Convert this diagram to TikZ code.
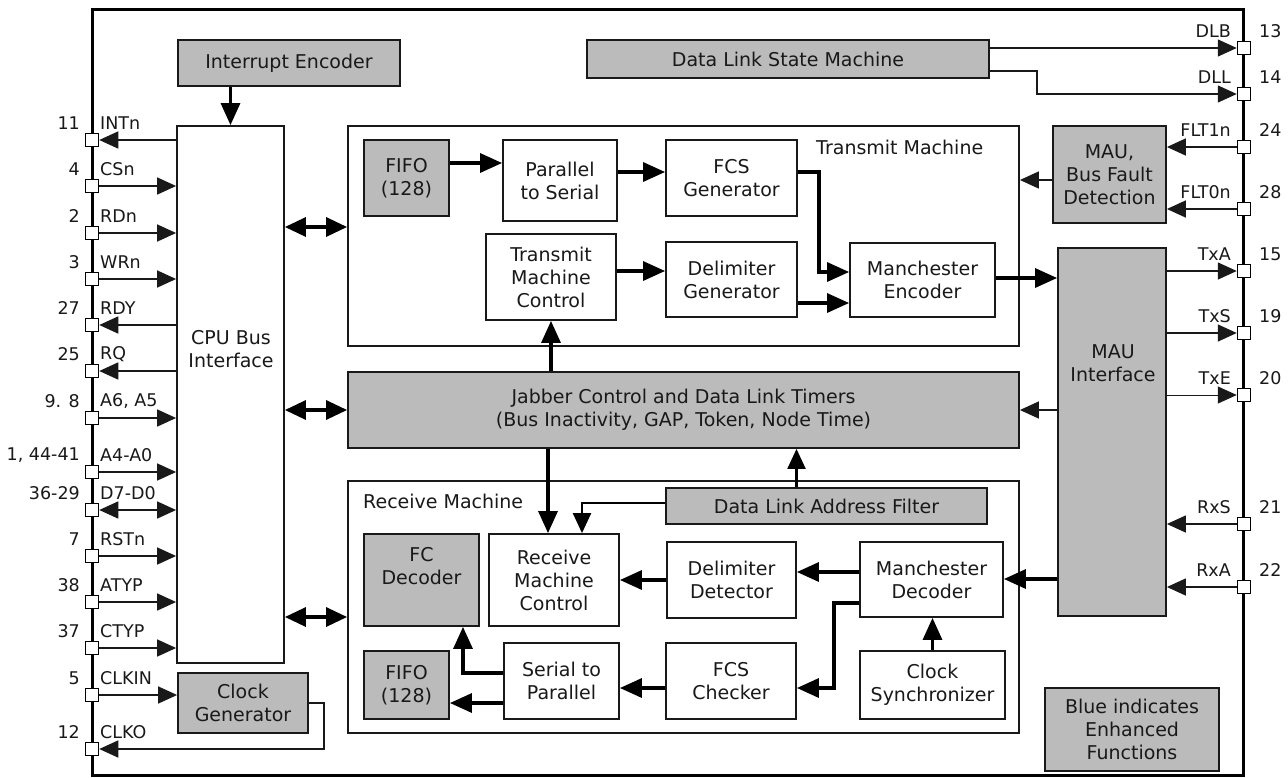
\documentclass[tikz,border=0pt]{standalone}
\usepackage{fontspec}
\setmainfont{DejaVu Sans}
\usetikzlibrary{arrows.meta,calc}
\definecolor{bgray}{RGB}{187,187,187}
\definecolor{ink}{RGB}{25,25,25}
\newcommand\dgf{\fontsize{19}{23}\selectfont}
\newcommand\pinf{\fontsize{17.5}{21}\selectfont}
\begin{document}
\begin{tikzpicture}[x=1pt,y=-1pt,font=\dgf,
  box/.style={draw=ink, line width=1.8pt, fill=white, inner sep=0pt, align=center, text=ink},
  gbox/.style={box, fill=bgray},
  pinsq/.style={draw=black, line width=1.5pt, fill=white, minimum size=13pt, inner sep=0pt},
  lbl/.style={text=ink, inner sep=0pt, align=center},
  plbl/.style={lbl, font=\pinf},
  ln/.style={line width=1.5pt, draw=ink},
  ar/.style={-{Triangle[length=19pt,width=17pt]}},
  ra/.style={{Triangle[length=19pt,width=17pt]}-},
  rr/.style={{Triangle[length=19pt,width=17pt]}-{Triangle[length=19pt,width=17pt]}},
  med/.style={line width=2.2pt, draw=black, -{Triangle[length=20pt,width=18pt]}},
  thk/.style={line width=3.2pt, draw=black, -{Triangle[length=22pt,width=19pt]}},
  dbl/.style={line width=3.2pt, draw=black, {Triangle[length=21pt,width=19pt]}-{Triangle[length=21pt,width=19pt]}}
]
\useasboundingbox (0,0) rectangle (1288,777);
\fill[white] (0,0) rectangle (1288,777);
\draw[line width=3pt, line join=miter] (92,9) rectangle (1243,775);

% containers
\node[box, minimum width=671pt, minimum height=220pt] (tm) at (683.5,236) {};
\node[lbl, anchor=west] (tml) at (816,147) {Transmit Machine};
\node[box, minimum width=671pt, minimum height=252pt] (rm) at (683.5,607) {};
\node[lbl, anchor=west] (rml) at (363,501) {Receive Machine};

% blocks
\node[gbox, minimum width=222pt, minimum height=46pt] (ienc) at (289,63) {Interrupt Encoder};
\node[box, minimum width=107pt, minimum height=537pt] (cpu) at (230.5,394.5) {};
\node[lbl] (cput) at (231,349) {CPU Bus\\Interface};
\node[gbox, minimum width=130pt, minimum height=60pt] (clkgen) at (243,703) {Clock\\Generator};
\node[gbox, minimum width=402pt, minimum height=38pt] (dlsm) at (788,59) {Data Link State Machine};

\node[gbox, minimum width=85pt, minimum height=76pt] (tfifo) at (406.5,178) {FIFO\\(128)};
\node[box, minimum width=114pt, minimum height=81pt] (p2s) at (560,180.5) {Parallel\\to Serial};
\node[box, minimum width=131pt, minimum height=76pt] (fcsg) at (731.5,178) {FCS\\Generator};
\node[box, minimum width=130pt, minimum height=86pt] (tmc) at (551,277) {Transmit\\Machine\\Control};
\node[box, minimum width=131pt, minimum height=75pt] (dgen) at (731.5,279.5) {Delimiter\\Generator};
\node[box, minimum width=145pt, minimum height=74pt] (menc) at (922.5,280) {Manchester\\Encoder};

\node[gbox, minimum width=113pt, minimum height=97pt] (maubf) at (1109.5,174.5) {MAU,\\Bus Fault\\Detection};
\node[gbox, minimum width=108pt, minimum height=368pt] (mauif) at (1112,432) {};
\node[lbl] (mauift) at (1113,363) {MAU\\Interface};

\node[gbox, minimum width=671pt, minimum height=76pt] (jab) at (683.5,410) {Jabber Control and Data Link Timers\\(Bus Inactivity, GAP, Token, Node Time)};

\node[gbox, minimum width=321pt, minimum height=36pt] (dlaf) at (826.5,506) {Data Link Address Filter};
\node[gbox, minimum width=115pt, minimum height=92pt] (fcdec) at (421.5,580) {};
\node[lbl] (fcdect) at (421.5,566) {FC\\Decoder};
\node[box, minimum width=130pt, minimum height=92pt] (rmc) at (554,580) {Receive\\Machine\\Control};
\node[box, minimum width=129pt, minimum height=76pt] (ddet) at (731.5,580) {Delimiter\\Detector};
\node[box, minimum width=143pt, minimum height=75pt] (mdec) at (931.5,579.5) {Manchester\\Decoder};
\node[gbox, minimum width=85pt, minimum height=68pt] (rfifo) at (406.5,685) {FIFO\\(128)};
\node[box, minimum width=115pt, minimum height=76pt] (s2p) at (561.5,681) {Serial to\\Parallel};
\node[box, minimum width=130pt, minimum height=76pt] (fcsc) at (731,681) {FCS\\Checker};
\node[box, minimum width=145pt, minimum height=68pt] (csync) at (932.5,685) {Clock\\Synchronizer};
\node[gbox, minimum width=174pt, minimum height=83pt] (blue) at (1132,729.5) {Blue indicates\\Enhanced\\Functions};

% helper coordinates
\coordinate (rmcA) at ($(rmc.north)+(-6,0)$);
\coordinate (rmcB) at ($(rmc.north)+(28,0)$);
\coordinate (dlafA) at ($(dlaf.north)+(-30,0)$);
\coordinate (fcdA) at ($(fcdec.south)+(41.5,0)$);

% internal connectors
\draw[thk] (cpu.north |- ienc.south) -- (cpu.north);
\draw[dbl] (cpu.east |- 0,227) -- (tm.west |- 0,227);
\draw[dbl] (cpu.east |- jab.west) -- (jab.west);
\draw[dbl] (cpu.east |- 0,617) -- (rm.west |- 0,617);

\draw[thk] (tfifo.east |- 0,163) -- (p2s.west |- 0,163);
\draw[thk] (p2s.east |- 0,172) -- (fcsg.west |- 0,172);
\draw[thk] (fcsg.east |- 0,172) -| (819,272) -- (menc.west |- 0,272);
\draw[thk] (tmc.east |- 0,271) -- (dgen.west |- 0,271);
\draw[thk] (dgen.east |- 0,303) -- (menc.west |- 0,303);
\draw[thk] (menc.east |- 0,278) -- (mauif.west |- 0,278);
\draw[ln,ar] (maubf.west |- 0,180) -- (tm.east |- 0,180);
\draw[ln,ar] (mauif.west |- jab.east) -- (jab.east);
\draw[thk] (tmc.south |- jab.north) -- (tmc.south);
\draw[thk] (rmcA |- jab.south) -- (rmcA);
\draw[med] (dlaf.west |- 0,503) -| (rmcB);
\draw[med] (dlafA) -- (dlafA |- jab.south);

\draw[thk] (mauif.west |- 0,579) -- (mdec.east |- 0,579);
\draw[thk] (mdec.west |- 0,572) -- (ddet.east |- 0,572);
\draw[thk] (mdec.west |- 0,603) -| (834,688) -- (fcsc.east |- 0,688);
\draw[thk] (csync.north) -- (csync.north |- mdec.south);
\draw[thk] (ddet.west |- rmc.east) -- (rmc.east);
\draw[thk] (fcsc.west |- 0,688) -- (s2p.east |- 0,688);
\draw[thk] (s2p.west |- 0,703) -- (rfifo.east |- 0,703);
\draw[thk] (s2p.west |- 0,673) -| (fcdA);

% left pins
\foreach \num/\nm/\y/\d/\id in {11/INTn/140/ra/pA, 4/CSn/186/ar/pB, 2/RDn/233/ar/pC, 3/WRn/279/ar/pD,
  27/RDY/325/ra/pE, 25/RQ/371/ra/pF, 9. 8/{A6, A5}/418/ar/pG, {1, 44-41}/A4-A0/472/ar/pH,
  36-29/D7-D0/510/rr/pI, 7/RSTn/556/ar/pJ, 38/ATYP/602/ar/pK, 37/CTYP/648/ar/pL}{
  \node[pinsq] (\id) at (92,\y) {};
  \node[plbl, anchor=east] (\id-num) at (80,\y-17) {\num};
  \node[plbl, anchor=west] (\id-lab) at (100,\y-17) {\nm};
  \draw[ln,\d] (\id.east) -- (cpu.west |- \id);
}
\node[pinsq] (pM) at (92,695) {};
\node[plbl, anchor=east] (pM-num) at (80,678) {5};
\node[plbl, anchor=west] (pM-lab) at (100,678) {CLKIN};
\draw[ln,ar] (pM.east) -- (clkgen.west |- pM);
\node[pinsq] (pN) at (92,749) {};
\node[plbl, anchor=east] (pN-num) at (80,732) {12};
\node[plbl, anchor=west] (pN-lab) at (100,732) {CLKO};
\draw[ln,ar] (clkgen.east |- 0,703) -| (324,749) -- (pN.east);

% right pins
\foreach \num/\nm/\y/\id in {13/DLB/48/qA, 14/DLL/94/qB, 24/FLT1n/147/qC, 28/FLT0n/209/qD,
  15/TxA/271/qE, 19/TxS/333/qF, 20/TxE/395/qG, 21/RxS/524/qH, 22/RxA/587/qI}{
  \node[pinsq] (\id) at (1244,\y) {};
  \node[plbl, anchor=east] (\id-lab) at (1231,\y-17) {\nm};
  \node[plbl, anchor=west] (\id-num) at (1259,\y-17) {\num};
}
\draw[ln,ar] (dlsm.east |- qA) -- (qA.west);
\draw[ln,ar] (dlsm.east |- 0,71) -| (1037,94) -- (qB.west);
\draw[ln,ar] (qC.west) -- (maubf.east |- qC);
\draw[ln,ar] (qD.west) -- (maubf.east |- qD);
\draw[ln,ar] (mauif.east |- qE) -- (qE.west);
\draw[ln,ar] (mauif.east |- qF) -- (qF.west);
\draw[ln,ar,line width=1pt] (mauif.east |- qG) -- (qG.west);
\draw[ln,ar] (qH.west) -- (mauif.east |- qH);
\draw[ln,ar] (qI.west) -- (mauif.east |- qI);
\end{tikzpicture}
\end{document}
